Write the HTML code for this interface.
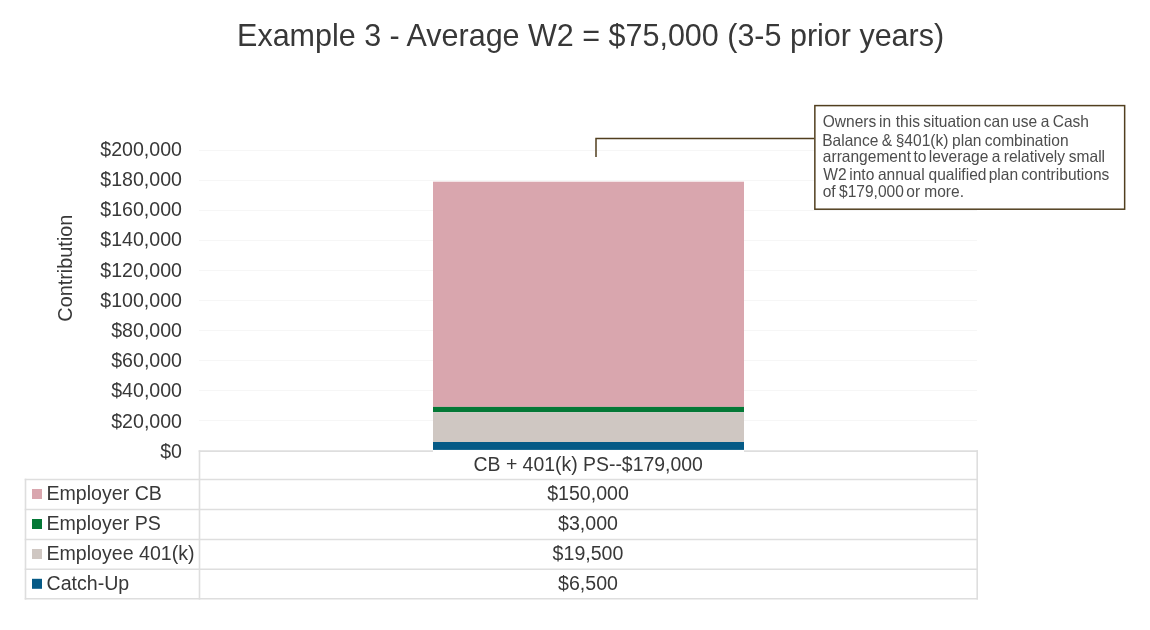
<!DOCTYPE html>
<html>
<head>
<meta charset="utf-8">
<style>
html,body{margin:0;padding:0;background:#fff;}
body{width:1150px;height:630px;overflow:hidden;}
svg{display:block;will-change:transform;}
text{font-family:"Liberation Sans",Arial,sans-serif;}
</style>
</head>
<body>
<svg width="1150" height="630" viewBox="0 0 1150 630">
<rect x="0" y="0" width="1150" height="630" fill="#ffffff"/>
<text x="590.6" y="45.7" font-size="30.45" fill="#383838" text-anchor="middle" transform="matrix(1.002,0,0,1.04,-1.181,-1.828)">Example 3 - Average W2 = $75,000 (3-5 prior years)</text>
<g stroke="#f6f6f6" stroke-width="1">
<line x1="199" y1="150.5" x2="977" y2="150.5"/>
<line x1="199" y1="180.5" x2="977" y2="180.5"/>
<line x1="199" y1="210.5" x2="977" y2="210.5"/>
<line x1="199" y1="240.5" x2="977" y2="240.5"/>
<line x1="199" y1="270.5" x2="977" y2="270.5"/>
<line x1="199" y1="300.5" x2="977" y2="300.5"/>
<line x1="199" y1="330.5" x2="977" y2="330.5"/>
<line x1="199" y1="360.5" x2="977" y2="360.5"/>
<line x1="199" y1="390.5" x2="977" y2="390.5"/>
<line x1="199" y1="420.5" x2="977" y2="420.5"/>
</g>
<text x="182" y="155.75" font-size="19.6" fill="#383838" text-anchor="end" transform="matrix(1.0,0,0,1.075,0.000,-11.681)">$200,000</text>
<text x="182" y="185.95" font-size="19.6" fill="#383838" text-anchor="end" transform="matrix(1.0,0,0,1.075,0.000,-13.946)">$180,000</text>
<text x="182" y="216.15" font-size="19.6" fill="#383838" text-anchor="end" transform="matrix(1.0,0,0,1.075,0.000,-16.211)">$160,000</text>
<text x="182" y="246.35" font-size="19.6" fill="#383838" text-anchor="end" transform="matrix(1.0,0,0,1.075,0.000,-18.476)">$140,000</text>
<text x="182" y="276.55" font-size="19.6" fill="#383838" text-anchor="end" transform="matrix(1.0,0,0,1.075,0.000,-20.741)">$120,000</text>
<text x="182" y="306.75" font-size="19.6" fill="#383838" text-anchor="end" transform="matrix(1.0,0,0,1.075,0.000,-23.006)">$100,000</text>
<text x="182" y="336.95" font-size="19.6" fill="#383838" text-anchor="end" transform="matrix(1.0,0,0,1.075,0.000,-25.271)">$80,000</text>
<text x="182" y="367.15" font-size="19.6" fill="#383838" text-anchor="end" transform="matrix(1.0,0,0,1.075,0.000,-27.536)">$60,000</text>
<text x="182" y="397.35" font-size="19.6" fill="#383838" text-anchor="end" transform="matrix(1.0,0,0,1.075,0.000,-29.801)">$40,000</text>
<text x="182" y="427.55" font-size="19.6" fill="#383838" text-anchor="end" transform="matrix(1.0,0,0,1.075,0.000,-32.066)">$20,000</text>
<text x="182" y="457.75" font-size="19.6" fill="#383838" text-anchor="end" transform="matrix(1.0,0,0,1.075,0.000,-34.331)">$0</text>
<g transform="translate(71.8,268.15) rotate(-90)"><text x="0" y="0" font-size="19.85" fill="#383838" text-anchor="middle" transform="matrix(1.0,0,0,1.04,0.000,-0.000)">Contribution</text></g>
<rect x="433" y="181.7" width="311" height="225.2" fill="#d9a6ae"/>
<rect x="433" y="406.9" width="311" height="5.3" fill="#047836"/>
<rect x="433" y="412.2" width="311" height="29.8" fill="#cfc7c2"/>
<rect x="433" y="442" width="311" height="7.9" fill="#055a86"/>
<g stroke="#dedede" stroke-width="1.6" fill="none" stroke-linecap="square">
<line x1="199.5" y1="451.1" x2="432.2" y2="451.1"/>
<line x1="744.8" y1="451.1" x2="977.2" y2="451.1"/>
<line x1="25.5" y1="479.5" x2="977.2" y2="479.5"/>
<line x1="25.5" y1="509.5" x2="977.2" y2="509.5"/>
<line x1="25.5" y1="539.5" x2="977.2" y2="539.5"/>
<line x1="25.5" y1="569.3" x2="977.2" y2="569.3"/>
<line x1="25.5" y1="598.8" x2="977.2" y2="598.8"/>
<line x1="25.5" y1="479.5" x2="25.5" y2="598.8"/>
<line x1="199.5" y1="451.1" x2="199.5" y2="598.8"/>
<line x1="977.2" y1="451.1" x2="977.2" y2="598.8"/>
</g>
<rect x="32" y="489.0" width="10" height="10" fill="#d9a6ae"/>
<text x="46.5" y="500.0" font-size="19.6" fill="#383838" transform="matrix(1.0,0,0,1.07,0.000,-35.000)">Employer CB</text>
<text x="588" y="500.0" font-size="19.6" fill="#383838" text-anchor="middle" transform="matrix(1.0,0,0,1.07,0.000,-35.000)">$150,000</text>
<rect x="32" y="519.0" width="10" height="10" fill="#047836"/>
<text x="46.5" y="530.0" font-size="19.6" fill="#383838" transform="matrix(1.0,0,0,1.07,0.000,-37.100)">Employer PS</text>
<text x="588" y="530.0" font-size="19.6" fill="#383838" text-anchor="middle" transform="matrix(1.0,0,0,1.07,0.000,-37.100)">$3,000</text>
<rect x="32" y="549.0" width="10" height="10" fill="#cfc7c2"/>
<text x="46.5" y="560.0" font-size="19.6" fill="#383838" transform="matrix(1.0,0,0,1.07,0.000,-39.200)">Employee 401(k)</text>
<text x="588" y="560.0" font-size="19.6" fill="#383838" text-anchor="middle" transform="matrix(1.0,0,0,1.07,0.000,-39.200)">$19,500</text>
<rect x="32" y="578.8" width="10" height="10" fill="#055a86"/>
<text x="46.5" y="589.8" font-size="19.6" fill="#383838" transform="matrix(1.0,0,0,1.07,0.000,-41.286)">Catch-Up</text>
<text x="588" y="589.8" font-size="19.6" fill="#383838" text-anchor="middle" transform="matrix(1.0,0,0,1.07,0.000,-41.286)">$6,500</text>
<text x="588.2" y="471.1" font-size="19.6" fill="#383838" text-anchor="middle" transform="matrix(0.991,0,0,1.07,5.294,-32.977)">CB + 401(k) PS--$179,000</text>
<polyline points="814,138.5 596,138.5 596,157" fill="none" stroke="#513f1f" stroke-width="1.5"/>
<rect x="814.85" y="105.6" width="309.8" height="103.6" fill="#ffffff" stroke="#513f1f" stroke-width="1.5"/>
<text y="127.3" font-size="15.55" fill="#4d4d4d" transform="matrix(1,0,0,1.06,0,-7.638)"><tspan x="822.76">Owners </tspan><tspan x="879.06">in </tspan><tspan x="895.76">this </tspan><tspan x="923.27">situation </tspan><tspan x="983.84">can </tspan><tspan x="1012.09">use </tspan><tspan x="1040.74">a </tspan><tspan x="1052.71">Cash</tspan></text>
<text y="145.6" font-size="15.55" fill="#4d4d4d" transform="matrix(1,0,0,1.06,0,-8.736)"><tspan x="822.22">Balance </tspan><tspan x="881.65">&amp; </tspan><tspan x="895.73">§401(k) </tspan><tspan x="952.1">plan </tspan><tspan x="984.74">combination</tspan></text>
<text y="162.4" font-size="15.55" fill="#4d4d4d" transform="matrix(1,0,0,1.06,0,-9.744)"><tspan x="822.84">arrangement </tspan><tspan x="913.46">to </tspan><tspan x="928.75">leverage </tspan><tspan x="991.74">a </tspan><tspan x="1003.77">relatively </tspan><tspan x="1068.77">small</tspan></text>
<text y="179.8" font-size="15.55" fill="#4d4d4d" transform="matrix(1,0,0,1.06,0,-10.788)"><tspan x="823.23">W2 </tspan><tspan x="849.26">into </tspan><tspan x="877.94">annual </tspan><tspan x="928.55">qualified </tspan><tspan x="988.7">plan </tspan><tspan x="1021.24">contributions</tspan></text>
<text y="197.0" font-size="15.55" fill="#4d4d4d" transform="matrix(1,0,0,1.06,0,-11.820)"><tspan x="822.65">of </tspan><tspan x="839.03">$179,000 </tspan><tspan x="906.35">or </tspan><tspan x="924.27">more.</tspan></text>
</svg>
</body>
</html>
